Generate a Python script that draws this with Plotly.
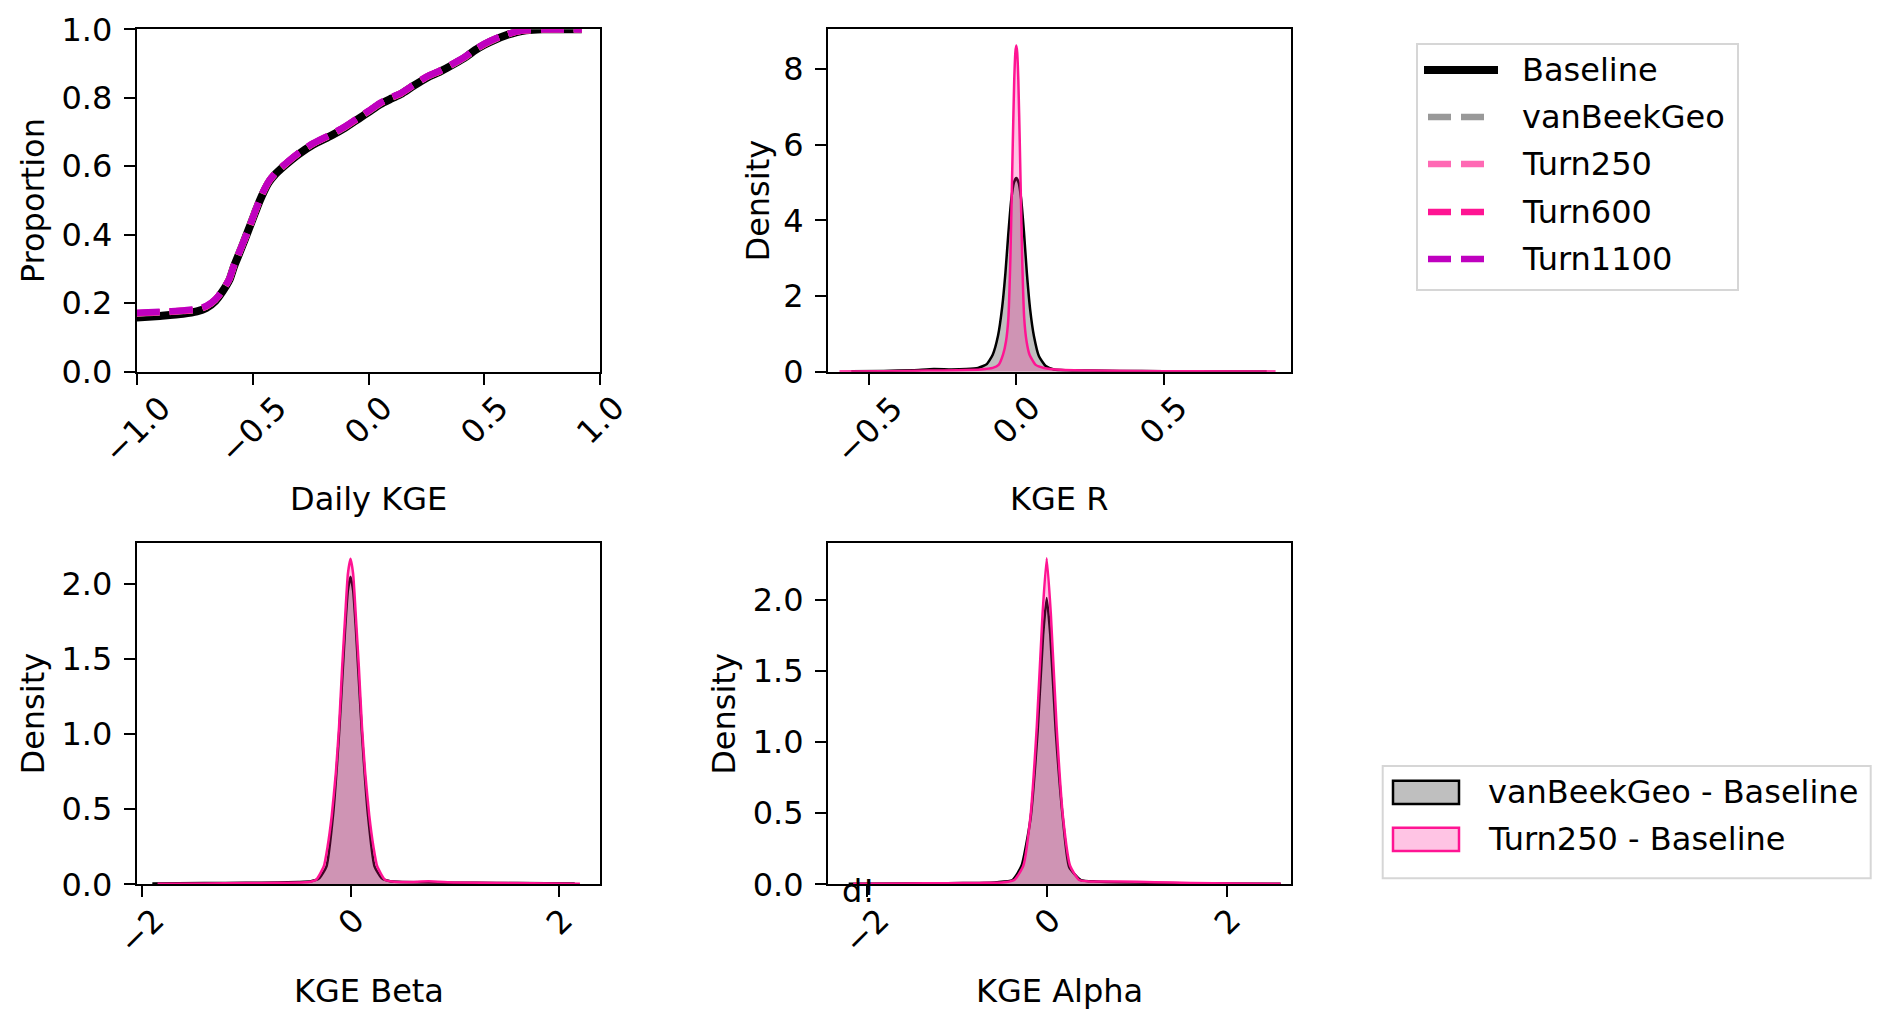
import plotly.graph_objects as go

# ---- panel a: cumulative distribution of daily KGE ----
cdf_x = [-1.0, -0.9, -0.8, -0.74, -0.7, -0.66, -0.63, -0.6, -0.58, -0.55, -0.52, -0.49, -0.47,
         -0.45, -0.43, -0.4, -0.36, -0.3, -0.24, -0.16, -0.1, -0.04, 0.0, 0.05, 0.1, 0.14, 0.19,
         0.25, 0.31, 0.37, 0.42, 0.46, 0.5, 0.55, 0.6, 0.64, 0.68, 0.75, 0.85, 0.92]
cdf_baseline = [0.158, 0.163, 0.169, 0.176, 0.186, 0.207, 0.234, 0.268, 0.308, 0.358, 0.41, 0.463,
                0.498, 0.528, 0.553, 0.578, 0.603, 0.636, 0.663, 0.69, 0.713, 0.74, 0.758, 0.781,
                0.798, 0.811, 0.833, 0.858, 0.877, 0.899, 0.919, 0.939, 0.955, 0.971, 0.984,
                0.992, 0.997, 1.0, 1.0, 1.0]
cdf_vanbeek = [0.17, 0.173, 0.177, 0.181, 0.19, 0.21, 0.236, 0.27, 0.31, 0.36, 0.41, 0.465, 0.5,
               0.53, 0.555, 0.58, 0.605, 0.638, 0.665, 0.692, 0.715, 0.742, 0.76, 0.783, 0.8,
               0.812, 0.834, 0.86, 0.878, 0.9, 0.92, 0.94, 0.956, 0.972, 0.985, 0.993, 0.997,
               1.0, 1.0, 1.0]
cdf_turn250 = [0.171, 0.174, 0.178, 0.182, 0.191, 0.211, 0.237, 0.271, 0.311, 0.361, 0.411, 0.466,
               0.501, 0.531, 0.556, 0.581, 0.606, 0.639, 0.666, 0.693, 0.716, 0.743, 0.761,
               0.784, 0.801, 0.813, 0.835, 0.861, 0.879, 0.901, 0.921, 0.941, 0.957, 0.973,
               0.985, 0.993, 0.997, 1.0, 1.0, 1.0]
cdf_turn600 = [0.171, 0.174, 0.178, 0.182, 0.191, 0.211, 0.237, 0.271, 0.311, 0.361, 0.411, 0.466,
               0.501, 0.531, 0.556, 0.581, 0.606, 0.639, 0.666, 0.693, 0.716, 0.743, 0.761,
               0.784, 0.801, 0.813, 0.835, 0.861, 0.879, 0.901, 0.921, 0.941, 0.957, 0.973,
               0.985, 0.993, 0.997, 1.0, 1.0, 1.0]
cdf_turn1100 = [0.172, 0.175, 0.179, 0.183, 0.192, 0.212, 0.238, 0.272, 0.312, 0.362, 0.412,
                0.467, 0.502, 0.532, 0.557, 0.582, 0.607, 0.64, 0.667, 0.694, 0.717, 0.744,
                0.762, 0.785, 0.802, 0.814, 0.836, 0.862, 0.88, 0.902, 0.922, 0.942, 0.958,
                0.974, 0.986, 0.994, 0.998, 1.0, 1.0, 1.0]

# ---- panel b: KGE R difference densities ----
r_van_x = [-0.56, -0.45, -0.35, -0.28, -0.22, -0.17, -0.13, -0.1, -0.08, -0.062, -0.048, -0.037,
           -0.027, -0.017, -0.008, 0.0, 0.008, 0.016, 0.026, 0.036, 0.047, 0.06, 0.077, 0.1,
           0.128, 0.17, 0.25, 0.35, 0.5, 0.65, 0.85]
r_van_y = [0.01, 0.02, 0.04, 0.07, 0.06, 0.07, 0.1, 0.2, 0.45, 0.95, 1.7, 2.6, 3.65, 4.55, 5.0,
           5.12, 5.0, 4.6, 3.7, 2.6, 1.65, 0.94, 0.41, 0.15, 0.06, 0.04, 0.03, 0.02, 0.015, 0.01,
           0.005]
r_turn_x = [-0.6, -0.45, -0.3, -0.2, -0.12, -0.08, -0.06, -0.045, -0.035, -0.027, -0.02, -0.012,
            -0.007, -0.003, 0.0, 0.003, 0.007, 0.012, 0.02, 0.027, 0.035, 0.045, 0.066, 0.094,
            0.15, 0.25, 0.4, 0.6, 0.88]
r_turn_y = [0.005, 0.01, 0.03, 0.04, 0.06, 0.1, 0.18, 0.45, 0.8, 1.4, 3.0, 6.0, 7.7, 8.45, 8.62,
            8.45, 7.7, 6.0, 3.0, 1.4, 0.8, 0.45, 0.18, 0.1, 0.05, 0.03, 0.02, 0.01, 0.005]

# ---- panel c: KGE Beta difference densities ----
beta_van_x = [-1.9, -1.4, -1.0, -0.7, -0.5, -0.38, -0.3, -0.23, -0.168, -0.11, -0.075, -0.05,
              -0.025, 0.0, 0.025, 0.05, 0.075, 0.11, 0.168, 0.23, 0.3, 0.38, 0.5, 0.8, 1.2,
              1.6, 2.15]
beta_van_y = [0.005, 0.008, 0.01, 0.012, 0.015, 0.02, 0.04, 0.12, 0.457, 1.0, 1.42, 1.72, 1.96,
              2.05, 1.96, 1.72, 1.42, 1.0, 0.457, 0.12, 0.04, 0.02, 0.015, 0.012, 0.01, 0.008,
              0.005]
beta_turn_x = [-1.85, -1.4, -1.0, -0.7, -0.5, -0.4, -0.33, -0.256, -0.22, -0.18, -0.14, -0.11,
               -0.08, -0.05, -0.025, 0.0, 0.025, 0.05, 0.08, 0.11, 0.14, 0.18, 0.22, 0.256,
               0.33, 0.4, 0.55, 0.75, 1.0, 1.5, 2.2]
beta_turn_y = [0.004, 0.006, 0.008, 0.01, 0.012, 0.015, 0.03, 0.12, 0.25, 0.457, 0.75, 1.05,
               1.45, 1.8, 2.07, 2.17, 2.07, 1.8, 1.45, 1.05, 0.75, 0.457, 0.25, 0.12, 0.03,
               0.018, 0.015, 0.02, 0.012, 0.008, 0.004]

# ---- panel d: KGE Alpha difference densities ----
alpha_van_x = [-2.2, -1.6, -1.1, -0.75, -0.55, -0.38, -0.28, -0.18, -0.1, -0.04, 0.0, 0.04, 0.1,
               0.18, 0.25, 0.38, 0.55, 0.8, 1.2, 1.8, 2.6]
alpha_van_y = [0.004, 0.006, 0.008, 0.01, 0.015, 0.03, 0.13, 0.46, 1.08, 1.75, 2.01, 1.75, 1.08,
               0.46, 0.12, 0.03, 0.02, 0.015, 0.01, 0.006, 0.004]
alpha_turn_x = [-2.15, -1.6, -1.1, -0.75, -0.5, -0.36, -0.26, -0.18, -0.11, -0.046, 0.0, 0.046,
                0.11, 0.18, 0.26, 0.36, 0.5, 0.8, 1.2, 1.6, 2.1, 2.6]
alpha_turn_y = [0.004, 0.006, 0.008, 0.01, 0.012, 0.03, 0.13, 0.48, 1.11, 1.9, 2.29, 1.9, 1.11,
                0.48, 0.13, 0.03, 0.02, 0.02, 0.015, 0.01, 0.006, 0.004]

# ticks and labels
tick_a = [-1.0, -0.5, 0.0, 0.5, 1.0]
tick_a_txt = ['\u22121.0', '\u22120.5', '0.0', '0.5', '1.0']
tick_b = [-0.5, 0.0, 0.5]
tick_b_txt = ['\u22120.5', '0.0', '0.5']
tick_cd = [-2, 0, 2]
tick_cd_txt = ['\u22122', '0', '2']

line_names = ['Baseline', 'vanBeekGeo', 'Turn250', 'Turn600', 'Turn1100']
line_colors = ['#000000', '#999999', '#ff69b4', '#ff1493', '#bf00bf']
cdf_series = [cdf_baseline, cdf_vanbeek, cdf_turn250, cdf_turn600, cdf_turn1100]
patch_names = ['vanBeekGeo - Baseline', 'Turn250 - Baseline']

FONT = 'DejaVu Sans'
FS = 32
W, H = 1892, 1028
DASH = '23px,10px'

fig = go.Figure()

for name, col, ys in zip(line_names, line_colors, cdf_series):
    if name == 'Baseline':
        ln = dict(color=col, width=8, shape='spline', smoothing=0.6)
    else:
        ln = dict(color=col, width=6.5, dash=DASH, shape='spline', smoothing=0.6)
    fig.add_trace(go.Scatter(x=cdf_x, y=ys, mode='lines', name=name, line=ln,
                             xaxis='x', yaxis='y', showlegend=False))

kde_panels = [
    ('x2', 'y2', r_van_x, r_van_y, r_turn_x, r_turn_y),
    ('x3', 'y3', beta_van_x, beta_van_y, beta_turn_x, beta_turn_y),
    ('x4', 'y4', alpha_van_x, alpha_van_y, alpha_turn_x, alpha_turn_y),
]
for xa, ya, vx, vy, tx, ty in kde_panels:
    fig.add_trace(go.Scatter(x=vx, y=vy, mode='lines', fill='tozeroy', name=patch_names[0],
                             fillcolor='rgba(128,128,128,0.5)',
                             line=dict(color='black', width=2.5, shape='spline', smoothing=0.5),
                             showlegend=False, xaxis=xa, yaxis=ya))
    fig.add_trace(go.Scatter(x=tx, y=ty, mode='lines', fill='tozeroy', name=patch_names[1],
                             fillcolor='rgba(255,20,147,0.25)',
                             line=dict(color='#ff1493', width=2.5, shape='spline', smoothing=0.5),
                             showlegend=False, xaxis=xa, yaxis=ya))

# subplot frames (pixel positions -> paper fractions)
col1 = [136.7 / W, 600.3 / W]
col2 = [828.0 / W, 1290.6 / W]
row1 = [1 - 371.7 / H, 1 - 29.3 / H]
row2 = [1 - 884.3 / H, 1 - 543.3 / H]

def xax(dom, rng, anchor, vals):
    return dict(domain=dom, range=rng, anchor=anchor, showline=True, mirror=True,
                linecolor='black', linewidth=2, ticks='outside', ticklen=11, tickwidth=2,
                tickcolor='black', showgrid=False, zeroline=False, showticklabels=False,
                tickmode='array', tickvals=vals)

def yax(dom, rng, anchor, vals, txt):
    return dict(domain=dom, range=rng, anchor=anchor, showline=True, mirror=True,
                linecolor='black', linewidth=2, ticks='outside', ticklen=11, tickwidth=2,
                tickcolor='black', showgrid=False, zeroline=False, tickmode='array',
                tickvals=vals, ticktext=txt, ticklabelstandoff=5,
                tickfont=dict(family=FONT, size=FS, color='black'))

fig.update_layout(
    xaxis=xax(col1, [-1, 1], 'y', tick_a),
    yaxis=yax(row1, [0, 1], 'x', [0, 0.2, 0.4, 0.6, 0.8, 1.0],
              ['0.0', '0.2', '0.4', '0.6', '0.8', '1.0']),
    xaxis2=xax(col2, [-0.639, 0.931], 'y2', tick_b),
    yaxis2=yax(row1, [0, 9.05], 'x2', [0, 2, 4, 6, 8], ['0', '2', '4', '6', '8']),
    xaxis3=xax(col1, [-2.05, 2.395], 'y3', tick_cd),
    yaxis3=yax(row2, [0, 2.273], 'x3', [0, 0.5, 1.0, 1.5, 2.0],
               ['0.0', '0.5', '1.0', '1.5', '2.0']),
    xaxis4=xax(col2, [-2.43, 2.71], 'y4', tick_cd),
    yaxis4=yax(row2, [0, 2.395], 'x4', [0, 0.5, 1.0, 1.5, 2.0],
               ['0.0', '0.5', '1.0', '1.5', '2.0']),
)

ann = []
# rotated x tick labels, centred under their ticks like matplotlib
for xa, ya, vals, txts in [('x', 'y', tick_a, tick_a_txt), ('x2', 'y2', tick_b, tick_b_txt),
                           ('x3', 'y3', tick_cd, tick_cd_txt), ('x4', 'y4', tick_cd, tick_cd_txt)]:
    for v, t in zip(vals, txts):
        ann.append(dict(x=v, xref=xa, y=0, yref=ya + ' domain', yanchor='top', xanchor='center',
                        yshift=-14, textangle=-45, text=t, showarrow=False,
                        font=dict(family=FONT, size=FS, color='black')))

# axis titles
xtitles = [('x', 'y', 'Daily KGE', -127), ('x2', 'y2', 'KGE R', -127),
           ('x3', 'y3', 'KGE Beta', -107), ('x4', 'y4', 'KGE Alpha', -107)]
for xa, ya, t, sh in xtitles:
    ann.append(dict(x=0.5, xref=xa + ' domain', y=0, yref=ya + ' domain', yshift=sh,
                    xanchor='center', yanchor='middle', text=t, showarrow=False,
                    font=dict(family=FONT, size=FS, color='black')))
ytitles = [('x', 'y', 'Proportion', -104), ('x2', 'y2', 'Density', -71),
           ('x3', 'y3', 'Density', -104), ('x4', 'y4', 'Density', -104)]
for xa, ya, t, sh in ytitles:
    ann.append(dict(x=0, xref=xa + ' domain', y=0.5, yref=ya + ' domain', xshift=sh,
                    xanchor='center', yanchor='middle', textangle=-90, text=t, showarrow=False,
                    font=dict(family=FONT, size=FS, color='black')))

# stray label in the lower-left of panel d
ann.append(dict(x=858 / W, xref='paper', y=1 - 891 / H, yref='paper', text='d!',
                showarrow=False, xanchor='center', yanchor='middle',
                font=dict(family=FONT, size=FS, color='black')))

# legends drawn in matplotlib style (frame, handles, labels)
shapes = [
    dict(type='rect', xref='paper', yref='paper', x0=1417 / W, x1=1738 / W,
         y0=1 - 290 / H, y1=1 - 44 / H, line=dict(color='#d6d6d6', width=2),
         fillcolor='white', layer='below'),
    dict(type='rect', xref='paper', yref='paper', x0=1382.7 / W, x1=1870.7 / W,
         y0=1 - 878.3 / H, y1=1 - 766 / H, line=dict(color='#d6d6d6', width=2),
         fillcolor='white', layer='below'),
]
leg_rows = [70, 117, 164, 212, 259]
for name, col, yc in zip(line_names, line_colors, leg_rows):
    if name == 'Baseline':
        shapes.append(dict(type='line', xref='paper', yref='paper', x0=1424 / W, x1=1498 / W,
                           y0=1 - yc / H, y1=1 - yc / H, line=dict(color=col, width=8)))
    else:
        shapes.append(dict(type='line', xref='paper', yref='paper', x0=1428 / W, x1=1494 / W,
                           y0=1 - yc / H, y1=1 - yc / H,
                           line=dict(color=col, width=6.5, dash=DASH)))
    ann.append(dict(x=1520 / W, xref='paper', y=1 - yc / H, yref='paper', text=name,
                    showarrow=False, xanchor='left', yanchor='middle',
                    font=dict(family=FONT, size=FS, color='black')))

patch_rows = [(780.7, 804.0), (827.7, 851.0)]
patch_fill = ['rgba(128,128,128,0.5)', 'rgba(255,20,147,0.25)']
patch_edge = ['black', '#ff1493']
for name, (ya0, ya1), fc, ec in zip(patch_names, patch_rows, patch_fill, patch_edge):
    shapes.append(dict(type='rect', xref='paper', yref='paper', x0=1393 / W, x1=1459 / W,
                       y0=1 - ya1 / H, y1=1 - ya0 / H, line=dict(color=ec, width=2.5),
                       fillcolor=fc))
    ann.append(dict(x=1486 / W, xref='paper', y=1 - (ya0 + ya1) / 2 / H, yref='paper',
                    text=name, showarrow=False, xanchor='left', yanchor='middle',
                    font=dict(family=FONT, size=FS, color='black')))

fig.update_layout(
    annotations=ann,
    shapes=shapes,
    width=W, height=H,
    margin=dict(l=0, r=0, t=0, b=0, pad=0, autoexpand=False),
    paper_bgcolor='white', plot_bgcolor='white',
    font=dict(family=FONT, size=FS, color='black'),
    showlegend=False,
)

fig.write_html("out.html", config={'displayModeBar': False},
               post_script="document.body.style.margin='0';")
